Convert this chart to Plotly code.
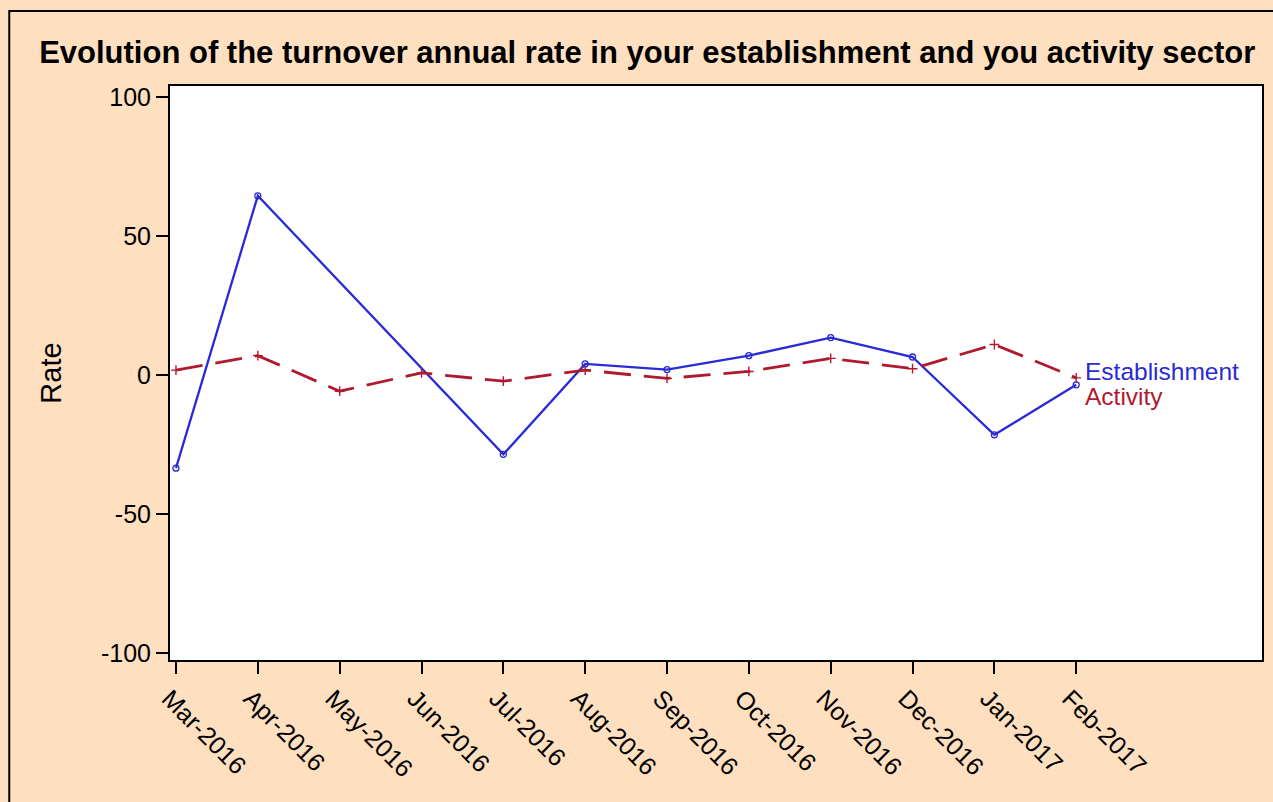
import plotly.graph_objects as go

months = ["Mar-2016", "Apr-2016", "May-2016", "Jun-2016", "Jul-2016", "Aug-2016",
          "Sep-2016", "Oct-2016", "Nov-2016", "Dec-2016", "Jan-2017", "Feb-2017"]
establishment = [-33.5, 64.5, None, None, -28.5, 4.0, 2.0, 7.0, 13.5, 6.5, -21.5, -3.5]
activity = [1.8, 7.0, -5.8, 0.8, -2.2, 1.8, -1.2, 1.3, 6.0, 2.3, 11.0, -1.0]
yticks = [-100, -50, 0, 50, 100]
yticklabels = ["-100", "-50", "0", "50", "100"]

BG = "#FEDFC0"
BLUE = "#2A2AD6"
RED = "#B01A2E"
FONT = "Liberation Sans, Arial, sans-serif"

fig = go.Figure()
fig.add_trace(go.Scatter(
    x=months, y=establishment, mode="lines+markers", name="Establishment",
    connectgaps=True,
    line=dict(color=BLUE, width=2.3),
    marker=dict(symbol="circle-open", size=6, color=BLUE, line=dict(width=1.3, color=BLUE)),
))
fig.add_trace(go.Scatter(
    x=months, y=activity, mode="lines+markers", name="Activity",
    line=dict(color=RED, width=2.8, dash="27px,13px"),
    marker=dict(symbol="cross-thin", size=7, color=RED, line=dict(width=1.4, color=RED)),
))

fig.add_annotation(x=months[-1], y=0, text="Establishment", showarrow=False,
                   xanchor="left", yanchor="middle", xshift=8, yshift=4, borderpad=0,
                   font=dict(family=FONT, size=24.5, color=BLUE))
fig.add_annotation(x=months[-1], y=0, text="Activity", showarrow=False,
                   xanchor="left", yanchor="middle", xshift=8, yshift=-21, borderpad=0,
                   font=dict(family=FONT, size=24.5, color=RED))

# outer frame (left/top border)
fig.add_shape(type="rect", xref="paper", yref="paper",
              x0=-0.1472, x1=1.2, y0=-0.6, y1=1.1307,
              line=dict(color="black", width=2), fillcolor="rgba(0,0,0,0)", layer="below")

fig.update_layout(
    width=1273, height=802,
    paper_bgcolor=BG, plot_bgcolor="white",
    margin=dict(l=170, r=9, t=86, b=142),
    showlegend=False,
    font=dict(family=FONT, size=24, color="black"),
    title=dict(text="<b>Evolution of the turnover annual rate in your establishment and you activity sector</b>",
               x=0.437, xref="paper", xanchor="center", y=0.935, yanchor="middle",
               font=dict(family=FONT, size=31, color="black")),
)
fig.update_xaxes(
    type="category", categoryorder="array", categoryarray=months,
    range=[-0.073, 13.27], tickangle=45, ticklabelshift=-7,
    showline=True, linecolor="black", linewidth=2, mirror=True,
    ticks="outside", ticklen=12, tickwidth=2, tickcolor="black",
    showgrid=False, zeroline=False,
    tickfont=dict(family=FONT, size=25),
)
fig.update_yaxes(
    range=[-102.5, 104], tickvals=yticks, ticktext=yticklabels,
    showline=True, linecolor="black", linewidth=2, mirror=True,
    ticks="outside", ticklen=12, tickwidth=2, tickcolor="black",
    showgrid=False, zeroline=False,
    title=dict(text="Rate", font=dict(family=FONT, size=29), standoff=31),
    tickfont=dict(family=FONT, size=25),
)

fig.write_html("out.html", config={"displayModeBar": False},
               post_script="document.body.style.margin='0';document.body.style.overflow='hidden';")
